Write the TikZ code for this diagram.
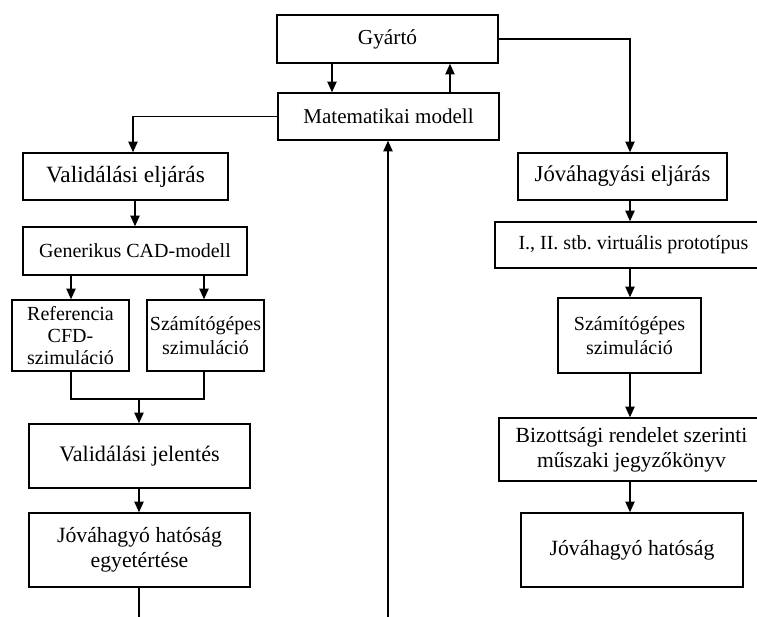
\documentclass[tikz,border=0pt]{standalone}
\usepackage{fontspec}
\setmainfont{Liberation Serif}
\newfontfamily\tnrfont{Liberation Serif}
\usetikzlibrary{arrows.meta,calc}
\frenchspacing
\begin{document}
\begin{tikzpicture}[x=0.75pt,y=-0.75pt,
  box/.style={draw,line width=1.1pt,align=center,inner sep=0pt},
  fs/.style 2 args={font=\tnrfont\fontsize{#1}{#2}\selectfont},
  conn/.style={line width=0.9pt},
  arr/.style={conn,-{Triangle[width=7pt,length=8pt]}}]
\useasboundingbox (0,0) rectangle (757,617);
\node[box,fs={16}{19},minimum width=221*0.75pt,minimum height=48*0.75pt] (gyarto) at (387.5,39) {Gyártó};
\node[box,fs={15.8}{19},minimum width=221*0.75pt,minimum height=47*0.75pt] (mat) at (388.5,116.5) {Matematikai modell};
\node[box,fs={17.5}{20},minimum width=205*0.75pt,minimum height=47*0.75pt] (valel) at (125.5,176.5) {Validálási eljárás};
\node[box,fs={15}{16.5},minimum width=224*0.75pt,minimum height=48*0.75pt] (cad) at (135,251) {Generikus CAD-modell};
\node[box,fs={15}{16.5},minimum width=117*0.75pt,minimum height=71*0.75pt] (ref) at (70.5,335.5) {Referencia\\CFD-\\szimuláció};
\node[box,fs={15}{17.5},minimum width=117*0.75pt,minimum height=71*0.75pt] (szam1) at (205.5,335.5) {Számítógépes\\szimuláció};
\node[box,fs={16.6}{19},minimum width=221*0.75pt,minimum height=64*0.75pt] (valjel) at (139.5,456) {Validálási jelentés};
\node[box,fs={16.3}{19},minimum width=221*0.75pt,minimum height=74*0.75pt] (egyet) at (139.5,550) {Jóváhagyó hatóság\\egyetértése};
\node[box,fs={17}{20},minimum width=209*0.75pt,minimum height=47*0.75pt] (jovel) at (622.5,176.5) {Jóváhagyási eljárás};
\node[box,fs={15}{17},minimum width=277*0.75pt,minimum height=46*0.75pt] (proto) at (633.5,245) {I., II. stb. virtuális prototípus};
\node[box,fs={15}{17.5},minimum width=143*0.75pt,minimum height=75*0.75pt] (szam2) at (629.5,335.5) {Számítógépes\\szimuláció};
\node[box,fs={16.2}{19},minimum width=265*0.75pt,minimum height=63*0.75pt] (biz) at (631.5,449.5) {Bizottsági rendelet szerinti\\műszaki jegyzőkönyv};
\node[box,fs={16.3}{19},minimum width=222*0.75pt,minimum height=74*0.75pt] (jovhat) at (632,550) {Jóváhagyó hatóság};
% helper coordinates
\coordinate (xa) at (332,0);
\coordinate (xb) at (450,0);
\coordinate (xl) at (133,0);
\coordinate (xc) at (135,0);
\coordinate (xr) at (630,0);
\coordinate (x1) at (71,0);
\coordinate (x2) at (204,0);
\coordinate (xm) at (139,0);
\coordinate (xv) at (388,0);
\coordinate (join) at (139,399);
\coordinate (bot1) at (139,617);
\coordinate (bot2) at (388,617);
% connectors
\draw[arr] (gyarto.south -| xa) -- (mat.north -| xa);
\draw[arr] (mat.north -| xb) -- (gyarto.south -| xb);
\draw[arr] (gyarto.east) -| (jovel.north -| xr);
\draw[arr] (mat.west) -| (valel.north -| xl);
\draw[arr] (valel.south -| xc) -- (cad.north -| xc);
\draw[arr] (cad.south -| x1) -- (ref.north -| x1);
\draw[arr] (cad.south -| x2) -- (szam1.north -| x2);
\draw[conn] (ref.south -| x1) -- (join -| x1) -- (join -| x2) -- (szam1.south -| x2);
\draw[arr] (join) -- (valjel.north -| xm);
\draw[arr] (valjel.south -| xm) -- (egyet.north -| xm);
\draw[conn] (egyet.south -| xm) -- (bot1);
\draw[arr] (bot2) -- (mat.south -| xv);
\draw[arr] (jovel.south -| xr) -- (proto.north -| xr);
\draw[arr] (proto.south -| xr) -- (szam2.north -| xr);
\draw[arr] (szam2.south -| xr) -- (biz.north -| xr);
\draw[arr] (biz.south -| xr) -- (jovhat.north -| xr);
\end{tikzpicture}
\end{document}
